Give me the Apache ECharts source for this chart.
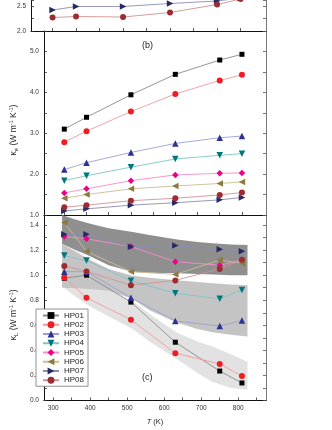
<!DOCTYPE html>
<html>
<head>
<meta charset="utf-8">
<script src="https://cdn.jsdelivr.net/npm/echarts@6/dist/echarts.min.js"></script>
<style>
  html, body { margin: 0; padding: 0; background: #fff; }
  #chart { width: 332px; height: 430px; }
</style>
</head>
<body>
<div id="chart"></div>
<script>
// measurement temperatures (K)
const temps = [330, 390, 510, 630, 750, 810];
const sampleNames = ['HP01', 'HP02', 'HP03', 'HP04', 'HP05', 'HP06', 'HP07', 'HP08'];

// panel (a) -- only its lower end is inside the picture
const kappaTopHP07 = [2.42, 2.49, 2.49, 2.55, 2.60, 2.66];
const kappaTopHP08 = [2.27, 2.29, 2.28, 2.37, 2.53, 2.64];

// panel (b): electronic thermal conductivity, one row per sample
const kappaE = [
  [3.10, 3.39, 3.94, 4.44, 4.79, 4.93],
  [2.78, 3.05, 3.53, 3.96, 4.29, 4.43],
  [2.11, 2.28, 2.53, 2.75, 2.89, 2.93],
  [1.84, 1.96, 2.17, 2.37, 2.46, 2.50],
  [1.54, 1.64, 1.84, 1.98, 2.02, 2.03],
  [1.41, 1.50, 1.64, 1.71, 1.77, 1.81],
  [1.10, 1.15, 1.24, 1.30, 1.37, 1.43],
  [1.19, 1.24, 1.35, 1.41, 1.49, 1.55]
];

// panel (c): lattice thermal conductivity
const kappaL = [
  [0.975, 1.00, 0.785, 0.465, 0.235, 0.14],
  [0.98, 0.82, 0.645, 0.377, 0.292, 0.196],
  [1.028, 1.028, 0.82, 0.635, 0.594, 0.638],
  [1.156, 1.116, 0.956, 0.855, 0.812, 0.882],
  [1.308, 1.29, 1.228, 1.108, 1.079, 1.12],
  [1.42, 1.19, 1.028, 1.006, 1.12, 1.095],
  [1.326, 1.326, 1.226, 1.236, 1.206, 1.19],
  [1.074, 1.03, 0.92, 0.958, 1.05, 1.122]
];

// grey guide bands behind panel (c)
const bandT = [324, 360, 400, 450, 515, 560, 635, 690, 730, 780, 825];
const bandDarkUpper = [1.48, 1.445, 1.41, 1.375, 1.345, 1.32, 1.285, 1.265, 1.255, 1.245, 1.24];
const bandDarkLower = [1.25, 1.20, 1.15, 1.08, 1.025, 1.02, 1.015, 1.01, 1.005, 1.0, 1.0];
const bandMidUpper = [1.25, 1.19, 1.12, 1.05, 0.995, 0.98, 0.96, 0.945, 0.935, 0.925, 0.92];
const bandMidLower = [0.90, 0.895, 0.89, 0.875, 0.81, 0.72, 0.62, 0.57, 0.545, 0.525, 0.51];
const bandLightUpper = [1.04, 1.00, 0.95, 0.88, 0.79, 0.69, 0.54, 0.47, 0.43, 0.37, 0.31];
const bandLightLower = [0.91, 0.83, 0.75, 0.67, 0.57, 0.47, 0.33, 0.22, 0.15, 0.10, 0.085];

// axis ticks
const tickTopT = [330, 390, 450, 510, 570, 630, 690, 750, 810];
const tickBottomT = [300, 350, 400, 450, 500, 550, 600, 650, 700, 750, 800, 850];
const labelBottomT = [300, 400, 500, 600, 700, 800];

const markerColors = ['#000000', '#ee1d23', '#2e3192', '#00777d', '#ec008c', '#8c7b3e', '#262a64', '#9b2c31'];
const lineColors = ['#8a8a8a', '#f29b9b', '#9d9fd2', '#7fc3c6', '#f38fc6', '#cbbd92', '#8c8db3', '#d09393'];
const symbols = ['rect', 'circle', 'triangle', 'triangle', 'diamond', 'triangle', 'triangle', 'circle'];
const rotations = [0, 0, 0, 180, 0, 90, -90, 0];
const sizes = [5, 6, 6.5, 6.5, 6.5, 6.5, 6.5, 6];

const FONT = 'Liberation Sans, Arial, sans-serif';

var chart = echarts.init(document.getElementById('chart'), null, { renderer: 'canvas' });

function pairs(xs, ys) {
  return xs.map(function (x, i) { return [x, ys[i]]; });
}

function sampleSeries(i, values, axisIdx) {
  return {
    name: sampleNames[i],
    type: 'line',
    xAxisIndex: axisIdx,
    yAxisIndex: axisIdx * 2,
    data: pairs(temps, values),
    symbol: symbols[i],
    symbolRotate: rotations[i],
    symbolSize: sizes[i],
    clip: axisIdx !== 0,
    lineStyle: { color: lineColors[i], width: 0.9 },
    itemStyle: { color: markerColors[i] },
    emphasis: { disabled: true },
    z: 3
  };
}

// a shaded band between two curves, drawn as one polygon through the axis scales
function bandSeries(key, lower, upper, color) {
  return {
    name: key,
    type: 'custom',
    xAxisIndex: 2,
    yAxisIndex: 4,
    silent: true,
    z: 1,
    data: bandT.map(function (t, i) { return [t, lower[i], upper[i]]; }),
    encode: { x: 0, y: [1, 2] },
    renderItem: function (params, api) {
      if (params.dataIndex !== 0) return;
      var pts = [];
      bandT.forEach(function (t, i) { pts.push(api.coord([t, upper[i]])); });
      for (var k = bandT.length - 1; k >= 0; k--) pts.push(api.coord([bandT[k], lower[k]]));
      return { type: 'polygon', shape: { points: pts }, style: { fill: color } };
    }
  };
}

function xAxisFor(gridIndex, bottomPanel) {
  return {
    type: 'value', gridIndex: gridIndex, min: 275, max: 875,
    splitLine: { show: false },
    axisLine: { lineStyle: { color: '#111', width: 1.2 } },
    axisTick: {
      inside: true, length: 3, lineStyle: { color: '#333', width: 0.8 },
      customValues: bottomPanel ? tickBottomT : tickTopT
    },
    axisLabel: bottomPanel
      ? { customValues: labelBottomT, fontSize: 6.5, color: '#333', margin: 4, fontFamily: FONT }
      : { show: false },
    name: bottomPanel ? '{i|T}{t| (K)}' : '',
    nameLocation: 'middle',
    nameGap: 17,
    nameTextStyle: {
      rich: {
        i: { fontSize: 7.5, fontStyle: 'italic', color: '#222', fontFamily: FONT },
        t: { fontSize: 7.5, color: '#222', fontFamily: FONT }
      }
    }
  };
}

function yAxesFor(gridIndex, min, max, step, labelEvery, name) {
  var fmt = function (v) {
    var k = Math.round(v / step);
    if (Math.abs(v / step - k) > 1e-6) return '';
    return k % labelEvery === 0 ? v.toFixed(1) : '';
  };
  return [{
    type: 'value', gridIndex: gridIndex, min: min, max: max, interval: step,
    position: 'left',
    splitLine: { show: false },
    axisLine: { show: true, lineStyle: { color: '#111', width: 1 } },
    axisTick: { show: true, inside: true, length: 3, lineStyle: { color: '#333', width: 0.8 } },
    axisLabel: { formatter: fmt, fontSize: 6.5, color: '#333', margin: 5, fontFamily: FONT },
    name: name || '',
    nameLocation: 'middle',
    nameGap: 16,
    nameTextStyle: {
      padding: [0, 14, 0, 0],
      rich: {
        t: { fontSize: 8.5, color: '#222', fontFamily: FONT, lineHeight: 11 },
        sub: { fontSize: 6, color: '#222', fontFamily: FONT, verticalAlign: 'bottom', lineHeight: 6 },
        sup: { fontSize: 5.5, color: '#222', fontFamily: FONT, verticalAlign: 'top', lineHeight: 6 }
      }
    }
  }, {
    type: 'value', gridIndex: gridIndex, min: min, max: max, interval: step,
    position: 'right',
    splitLine: { show: false },
    axisLine: { show: true, lineStyle: { color: '#777', width: 1 } },
    axisTick: { show: true, inside: true, length: 3, lineStyle: { color: '#555', width: 0.8 } },
    axisLabel: { show: false }
  }];
}

var series = [
  bandSeries('light', bandLightLower, bandLightUpper, '#e2e2e2'),
  bandSeries('mid', bandMidLower, bandMidUpper, '#c4c4c4'),
  bandSeries('dark', bandDarkLower, bandDarkUpper, '#8f8f8f')
];
for (var i = 0; i < sampleNames.length; i++) {
  series.push(sampleSeries(i, kappaL[i], 2));
}
for (var j = 0; j < sampleNames.length; j++) {
  series.push(sampleSeries(j, kappaE[j], 1));
}
series.push(sampleSeries(6, kappaTopHP07, 0));
series.push(sampleSeries(7, kappaTopHP08, 0));

chart.setOption({
  animation: false,
  backgroundColor: '#fff',
  textStyle: { fontFamily: FONT },
  grid: [
    { left: 31, top: 0, width: 235, height: 31 },
    { left: 31, top: 31, width: 235, height: 184 },
    { left: 31, top: 215, width: 235, height: 185.5 }
  ],
  xAxis: [xAxisFor(0, false), xAxisFor(1, false), xAxisFor(2, true)],
  yAxis: [].concat(
    yAxesFor(0, 2.0, 2.62, 0.25, 2, ''),
    yAxesFor(1, 1.0, 5.5, 0.5, 2, '{t|\u03ba}{sub|e}{t| (W m}{sup|-1}{t| K}{sup|-1}{t|)}'),
    yAxesFor(2, 0, 1.48, 0.1, 2, '{t|\u03ba}{sub|L}{t| (W m}{sup|-1}{t| K}{sup|-1}{t|)}')
  ),
  legend: {
    data: sampleNames,
    orient: 'vertical',
    left: 36, top: 309,
    itemWidth: 16, itemHeight: 8.5, itemGap: 1.25,
    padding: [2.5, 4, 2, 6],
    borderColor: '#777', borderWidth: 0.8,
    backgroundColor: '#fff',
    textStyle: { fontSize: 8, color: '#222', fontFamily: FONT },
    selectedMode: false
  },
  graphic: [
    { type: 'text', left: 142, top: 41, style: { text: '(b)', fontSize: 9, fill: '#222', fontFamily: FONT } },
    { type: 'text', left: 142, top: 373, style: { text: '(c)', fontSize: 9, fill: '#222', fontFamily: FONT } }
  ],
  series: series
});
</script>
</body>
</html>
